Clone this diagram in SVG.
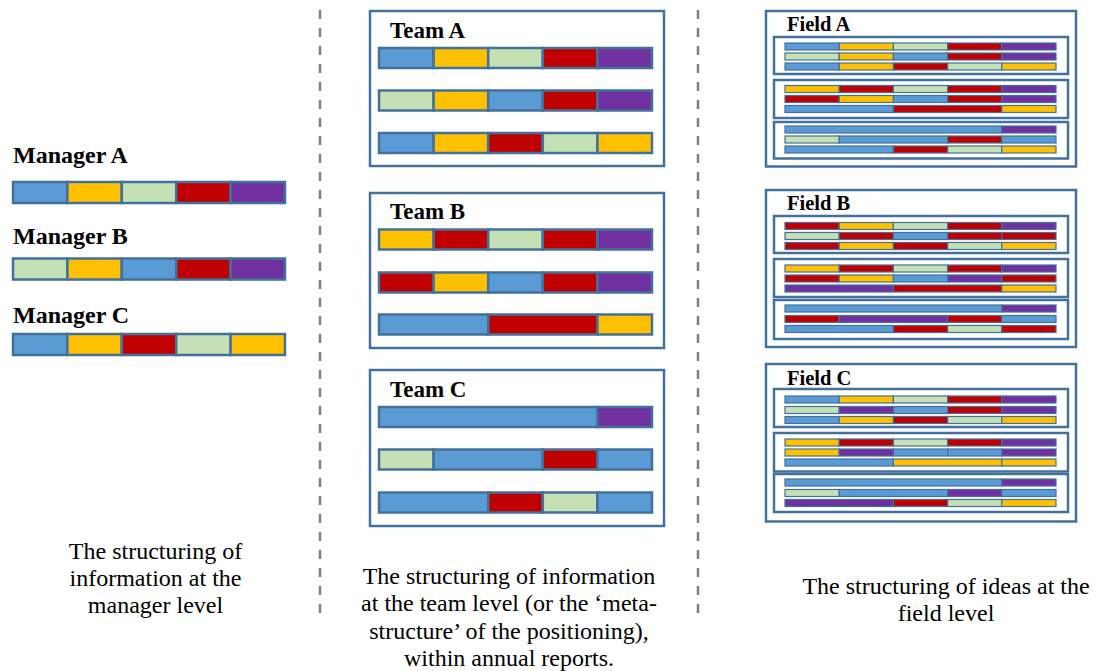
<svg xmlns="http://www.w3.org/2000/svg" width="1099" height="671" viewBox="0 0 1099 671">
<style>
.b{fill:#5B9BD5}.y{fill:#FFC000}.g{fill:#C5E0B4}.r{fill:#C00000}.p{fill:#7030A0}
.big rect{stroke:#41719C;stroke-width:2.5}
.sm rect{stroke:#41719C;stroke-width:1.2}
.box{fill:#fff;stroke:#41719C;stroke-width:2.5}
.lbl{font-weight:bold;fill:#000}
.cap{font-size:24px;fill:#000;text-anchor:middle}
.dash{stroke:#808080;stroke-width:2.5;stroke-dasharray:9 9;fill:none}
</style>
<rect width="1099" height="671" fill="#fff"/>
<g id="connectors">
<line class="dash" x1="320" y1="10" x2="320" y2="620"/>
<line class="dash" x1="698" y1="10" x2="698" y2="620"/>
</g>
<g font-family="Liberation Serif, Tinos, DejaVu Serif, serif">
<g id="managerA">
<text class="lbl" x="13" y="163" font-size="24">Manager A</text>
<g class="big">
<rect class="b" x="13" y="182" width="54.4" height="21"/><rect class="y" x="67.4" y="182" width="54.4" height="21"/><rect class="g" x="121.8" y="182" width="54.4" height="21"/><rect class="r" x="176.2" y="182" width="54.4" height="21"/><rect class="p" x="230.6" y="182" width="54.4" height="21"/>
</g></g>
<g id="managerB">
<text class="lbl" x="13" y="244" font-size="24">Manager B</text>
<g class="big">
<rect class="g" x="13" y="258.5" width="54.4" height="21"/><rect class="y" x="67.4" y="258.5" width="54.4" height="21"/><rect class="b" x="121.8" y="258.5" width="54.4" height="21"/><rect class="r" x="176.2" y="258.5" width="54.4" height="21"/><rect class="p" x="230.6" y="258.5" width="54.4" height="21"/>
</g></g>
<g id="managerC">
<text class="lbl" x="13" y="322.5" font-size="24">Manager C</text>
<g class="big">
<rect class="b" x="13" y="334" width="54.4" height="21"/><rect class="y" x="67.4" y="334" width="54.4" height="21"/><rect class="r" x="121.8" y="334" width="54.4" height="21"/><rect class="g" x="176.2" y="334" width="54.4" height="21"/><rect class="y" x="230.6" y="334" width="54.4" height="21"/>
</g></g>

<g id="teamA">
<rect class="box" x="370" y="11" width="294" height="155"/>
<text class="lbl" x="390" y="37.5" font-size="23">Team A</text>
<g class="big">
<rect class="b" x="379" y="48" width="54.6" height="20"/><rect class="y" x="433.6" y="48" width="54.6" height="20"/><rect class="g" x="488.2" y="48" width="54.6" height="20"/><rect class="r" x="542.8" y="48" width="54.6" height="20"/><rect class="p" x="597.4" y="48" width="54.6" height="20"/>
<rect class="g" x="379" y="90.5" width="54.6" height="20"/><rect class="y" x="433.6" y="90.5" width="54.6" height="20"/><rect class="b" x="488.2" y="90.5" width="54.6" height="20"/><rect class="r" x="542.8" y="90.5" width="54.6" height="20"/><rect class="p" x="597.4" y="90.5" width="54.6" height="20"/>
<rect class="b" x="379" y="133" width="54.6" height="20"/><rect class="y" x="433.6" y="133" width="54.6" height="20"/><rect class="r" x="488.2" y="133" width="54.6" height="20"/><rect class="g" x="542.8" y="133" width="54.6" height="20"/><rect class="y" x="597.4" y="133" width="54.6" height="20"/>
</g></g>

<g id="teamB">
<rect class="box" x="370" y="193" width="294" height="155"/>
<text class="lbl" x="390" y="219.3" font-size="23">Team B</text>
<g class="big">
<rect class="y" x="379" y="229.5" width="54.6" height="20"/><rect class="r" x="433.6" y="229.5" width="54.6" height="20"/><rect class="g" x="488.2" y="229.5" width="54.6" height="20"/><rect class="r" x="542.8" y="229.5" width="54.6" height="20"/><rect class="p" x="597.4" y="229.5" width="54.6" height="20"/>
<rect class="r" x="379" y="272.5" width="54.6" height="20"/><rect class="y" x="433.6" y="272.5" width="54.6" height="20"/><rect class="b" x="488.2" y="272.5" width="54.6" height="20"/><rect class="r" x="542.8" y="272.5" width="54.6" height="20"/><rect class="p" x="597.4" y="272.5" width="54.6" height="20"/>
<rect class="b" x="379" y="314.5" width="109.2" height="20"/><rect class="r" x="488.2" y="314.5" width="109.2" height="20"/><rect class="y" x="597.4" y="314.5" width="54.6" height="20"/>
</g></g>

<g id="teamC">
<rect class="box" x="370" y="370" width="294" height="156"/>
<text class="lbl" x="390" y="396.7" font-size="23">Team C</text>
<g class="big">
<rect class="b" x="379" y="407" width="218.4" height="20"/><rect class="p" x="597.4" y="407" width="54.6" height="20"/>
<rect class="g" x="379" y="449.5" width="54.6" height="20"/><rect class="b" x="433.6" y="449.5" width="109.2" height="20"/><rect class="r" x="542.8" y="449.5" width="54.6" height="20"/><rect class="b" x="597.4" y="449.5" width="54.6" height="20"/>
<rect class="b" x="379" y="492.5" width="109.2" height="20"/><rect class="r" x="488.2" y="492.5" width="54.6" height="20"/><rect class="g" x="542.8" y="492.5" width="54.6" height="20"/><rect class="b" x="597.4" y="492.5" width="54.6" height="20"/>
</g></g>

<g id="fieldA">
<rect class="box" x="766" y="11" width="310" height="155.5"/>
<text class="lbl" x="787" y="30.7" font-size="20.5">Field A</text>
<rect class="box" x="774" y="37" width="294" height="37"/>
<rect class="box" x="774" y="80" width="294" height="38"/>
<rect class="box" x="774" y="122" width="294" height="36.5"/>
<g class="sm">
<rect class="b" x="785" y="43" width="54.2" height="7"/><rect class="y" x="839.2" y="43" width="54.2" height="7"/><rect class="g" x="893.4" y="43" width="54.2" height="7"/><rect class="r" x="947.6" y="43" width="54.2" height="7"/><rect class="p" x="1001.8" y="43" width="54.2" height="7"/>
<rect class="g" x="785" y="53" width="54.2" height="7"/><rect class="y" x="839.2" y="53" width="54.2" height="7"/><rect class="b" x="893.4" y="53" width="54.2" height="7"/><rect class="r" x="947.6" y="53" width="54.2" height="7"/><rect class="p" x="1001.8" y="53" width="54.2" height="7"/>
<rect class="b" x="785" y="63" width="54.2" height="7"/><rect class="y" x="839.2" y="63" width="54.2" height="7"/><rect class="r" x="893.4" y="63" width="54.2" height="7"/><rect class="g" x="947.6" y="63" width="54.2" height="7"/><rect class="y" x="1001.8" y="63" width="54.2" height="7"/>
<rect class="y" x="785" y="85.5" width="54.2" height="7"/><rect class="r" x="839.2" y="85.5" width="54.2" height="7"/><rect class="g" x="893.4" y="85.5" width="54.2" height="7"/><rect class="r" x="947.6" y="85.5" width="54.2" height="7"/><rect class="p" x="1001.8" y="85.5" width="54.2" height="7"/>
<rect class="r" x="785" y="95.5" width="54.2" height="7"/><rect class="y" x="839.2" y="95.5" width="54.2" height="7"/><rect class="b" x="893.4" y="95.5" width="54.2" height="7"/><rect class="r" x="947.6" y="95.5" width="54.2" height="7"/><rect class="p" x="1001.8" y="95.5" width="54.2" height="7"/>
<rect class="b" x="785" y="105.5" width="108.4" height="7"/><rect class="r" x="893.4" y="105.5" width="108.4" height="7"/><rect class="y" x="1001.8" y="105.5" width="54.2" height="7"/>
<rect class="b" x="785" y="126" width="216.8" height="7"/><rect class="p" x="1001.8" y="126" width="54.2" height="7"/>
<rect class="g" x="785" y="136" width="54.2" height="7"/><rect class="b" x="839.2" y="136" width="108.4" height="7"/><rect class="r" x="947.6" y="136" width="54.2" height="7"/><rect class="b" x="1001.8" y="136" width="54.2" height="7"/>
<rect class="b" x="785" y="146" width="108.4" height="7"/><rect class="r" x="893.4" y="146" width="54.2" height="7"/><rect class="g" x="947.6" y="146" width="54.2" height="7"/><rect class="y" x="1001.8" y="146" width="54.2" height="7"/>
</g></g>

<g id="fieldB">
<rect class="box" x="766" y="190" width="310" height="157"/>
<text class="lbl" x="787" y="210" font-size="20.5">Field B</text>
<rect class="box" x="774" y="216" width="294" height="37"/>
<rect class="box" x="774" y="259" width="294" height="38"/>
<rect class="box" x="774" y="300" width="294" height="39"/>
<g class="sm">
<rect class="r" x="785" y="222.5" width="54.2" height="7"/><rect class="y" x="839.2" y="222.5" width="54.2" height="7"/><rect class="g" x="893.4" y="222.5" width="54.2" height="7"/><rect class="r" x="947.6" y="222.5" width="54.2" height="7"/><rect class="p" x="1001.8" y="222.5" width="54.2" height="7"/>
<rect class="g" x="785" y="232.5" width="54.2" height="7"/><rect class="r" x="839.2" y="232.5" width="54.2" height="7"/><rect class="b" x="893.4" y="232.5" width="54.2" height="7"/><rect class="r" x="947.6" y="232.5" width="54.2" height="7"/><rect class="r" x="1001.8" y="232.5" width="54.2" height="7"/>
<rect class="r" x="785" y="242.5" width="54.2" height="7"/><rect class="y" x="839.2" y="242.5" width="54.2" height="7"/><rect class="r" x="893.4" y="242.5" width="54.2" height="7"/><rect class="g" x="947.6" y="242.5" width="54.2" height="7"/><rect class="y" x="1001.8" y="242.5" width="54.2" height="7"/>
<rect class="y" x="785" y="265" width="54.2" height="7"/><rect class="r" x="839.2" y="265" width="54.2" height="7"/><rect class="g" x="893.4" y="265" width="54.2" height="7"/><rect class="r" x="947.6" y="265" width="54.2" height="7"/><rect class="p" x="1001.8" y="265" width="54.2" height="7"/>
<rect class="r" x="785" y="275" width="54.2" height="7"/><rect class="y" x="839.2" y="275" width="54.2" height="7"/><rect class="b" x="893.4" y="275" width="54.2" height="7"/><rect class="p" x="947.6" y="275" width="54.2" height="7"/><rect class="r" x="1001.8" y="275" width="54.2" height="7"/>
<rect class="p" x="785" y="285" width="108.4" height="7"/><rect class="r" x="893.4" y="285" width="108.4" height="7"/><rect class="y" x="1001.8" y="285" width="54.2" height="7"/>
<rect class="b" x="785" y="305" width="216.8" height="7"/><rect class="p" x="1001.8" y="305" width="54.2" height="7"/>
<rect class="r" x="785" y="315.5" width="54.2" height="7"/><rect class="p" x="839.2" y="315.5" width="108.4" height="7"/><rect class="r" x="947.6" y="315.5" width="54.2" height="7"/><rect class="b" x="1001.8" y="315.5" width="54.2" height="7"/>
<rect class="b" x="785" y="325.5" width="108.4" height="7"/><rect class="r" x="893.4" y="325.5" width="54.2" height="7"/><rect class="g" x="947.6" y="325.5" width="54.2" height="7"/><rect class="r" x="1001.8" y="325.5" width="54.2" height="7"/>
</g></g>

<g id="fieldC">
<rect class="box" x="766" y="364" width="310" height="157.5"/>
<text class="lbl" x="787" y="385" font-size="20.5">Field C</text>
<rect class="box" x="774" y="389" width="294" height="38"/>
<rect class="box" x="774" y="433" width="294" height="38.5"/>
<rect class="box" x="774" y="474" width="294" height="38"/>
<g class="sm">
<rect class="b" x="785" y="396" width="54.2" height="7"/><rect class="y" x="839.2" y="396" width="54.2" height="7"/><rect class="g" x="893.4" y="396" width="54.2" height="7"/><rect class="r" x="947.6" y="396" width="54.2" height="7"/><rect class="p" x="1001.8" y="396" width="54.2" height="7"/>
<rect class="g" x="785" y="406.5" width="54.2" height="7"/><rect class="p" x="839.2" y="406.5" width="54.2" height="7"/><rect class="b" x="893.4" y="406.5" width="54.2" height="7"/><rect class="r" x="947.6" y="406.5" width="54.2" height="7"/><rect class="p" x="1001.8" y="406.5" width="54.2" height="7"/>
<rect class="b" x="785" y="416.5" width="54.2" height="7"/><rect class="y" x="839.2" y="416.5" width="54.2" height="7"/><rect class="r" x="893.4" y="416.5" width="54.2" height="7"/><rect class="g" x="947.6" y="416.5" width="54.2" height="7"/><rect class="y" x="1001.8" y="416.5" width="54.2" height="7"/>
<rect class="y" x="785" y="439" width="54.2" height="7"/><rect class="r" x="839.2" y="439" width="54.2" height="7"/><rect class="g" x="893.4" y="439" width="54.2" height="7"/><rect class="r" x="947.6" y="439" width="54.2" height="7"/><rect class="p" x="1001.8" y="439" width="54.2" height="7"/>
<rect class="y" x="785" y="449" width="54.2" height="7"/><rect class="p" x="839.2" y="449" width="54.2" height="7"/><rect class="b" x="893.4" y="449" width="54.2" height="7"/><rect class="b" x="947.6" y="449" width="54.2" height="7"/><rect class="p" x="1001.8" y="449" width="54.2" height="7"/>
<rect class="b" x="785" y="459" width="108.4" height="7"/><rect class="y" x="893.4" y="459" width="108.4" height="7"/><rect class="y" x="1001.8" y="459" width="54.2" height="7"/>
<rect class="b" x="785" y="479" width="216.8" height="7"/><rect class="p" x="1001.8" y="479" width="54.2" height="7"/>
<rect class="g" x="785" y="489.5" width="54.2" height="7"/><rect class="b" x="839.2" y="489.5" width="108.4" height="7"/><rect class="p" x="947.6" y="489.5" width="54.2" height="7"/><rect class="b" x="1001.8" y="489.5" width="54.2" height="7"/>
<rect class="p" x="785" y="499.5" width="108.4" height="7"/><rect class="r" x="893.4" y="499.5" width="54.2" height="7"/><rect class="g" x="947.6" y="499.5" width="54.2" height="7"/><rect class="y" x="1001.8" y="499.5" width="54.2" height="7"/>
</g></g>

<g id="captions">
<text class="cap" x="155.5"><tspan x="155.5" y="558.5">The structuring of</tspan><tspan x="155.5" y="585.5">information at the</tspan><tspan x="155.5" y="612.5">manager level</tspan></text>
<text class="cap" x="509"><tspan x="509" y="583.5">The structuring of information</tspan><tspan x="509" y="611">at the team level (or the ‘meta-</tspan><tspan x="509" y="638.5">structure’ of the positioning),</tspan><tspan x="509" y="665.5">within annual reports.</tspan></text>
<text class="cap" x="946"><tspan x="946" y="593.5">The structuring of ideas at the</tspan><tspan x="946" y="621">field level</tspan></text>
</g>
</g>
</svg>
